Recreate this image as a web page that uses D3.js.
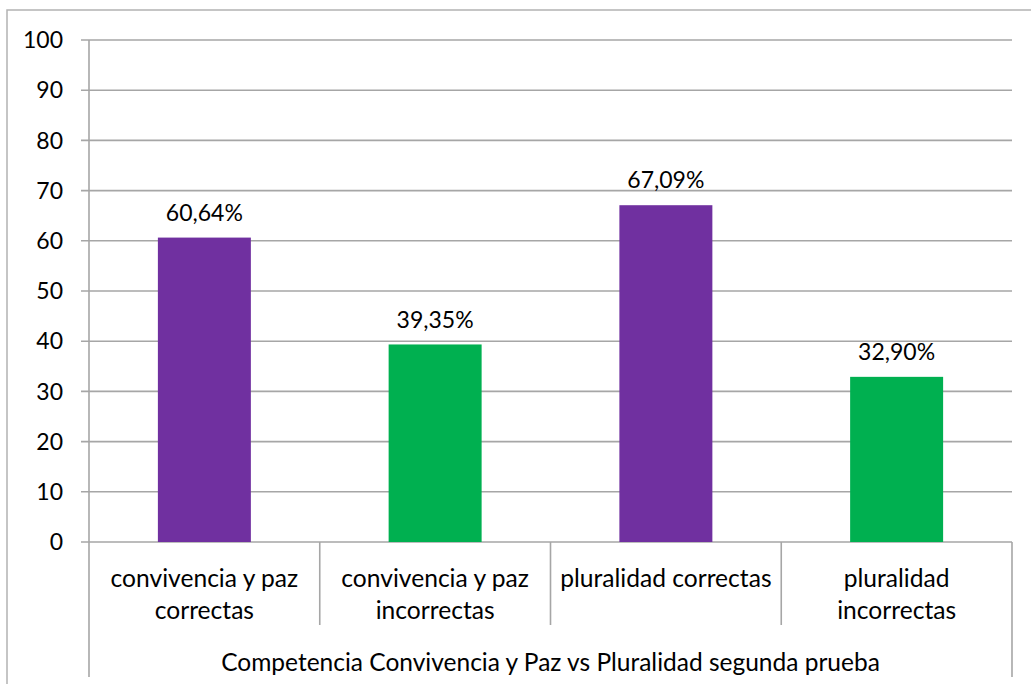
<!DOCTYPE html>
<html><head><meta charset="utf-8">
<script src="https://cdn.jsdelivr.net/npm/d3@7"></script>
<style>body{margin:0;background:#fff}text{font-family:Lato,"Open Sans",sans-serif;fill:#000}</style>
</head><body>
<svg id="c" width="1031" height="684"></svg>
<script>
const categories = [["convivencia y paz","correctas"],["convivencia y paz","incorrectas"],["pluralidad correctas"],["pluralidad","incorrectas"]];
const values = [60.64, 39.35, 67.09, 32.90];
const labels = ["60,64%","39,35%","67,09%","32,90%"];
const colors = ["#7030A0","#00B050","#7030A0","#00B050"];
const yTicks = [0,10,20,30,40,50,60,70,80,90,100];
const groupLabel = "Competencia Convivencia y Paz vs Pluralidad segunda prueba";

const svg = d3.select("#c");
const L=89, R=1012, T=40, B=542;
const grid="#a6a6a6";
svg.append("rect").attr("x",7).attr("y",10).attr("width",1040).attr("height",700).attr("fill","none").attr("stroke","#b3b3b3").attr("stroke-width",1.5);
const x = d3.scaleBand().domain(d3.range(values.length)).range([L,R]).paddingInner(0).paddingOuter(0);
const y = d3.scaleLinear().domain([0,100]).range([B,T]);

svg.append("g").selectAll("line").data(yTicks).join("line")
  .attr("x1",L-8).attr("x2",R).attr("y1",d=>y(d)).attr("y2",d=>y(d))
  .attr("stroke",grid).attr("stroke-width",1.6);
svg.append("line").attr("x1",L).attr("x2",L).attr("y1",T).attr("y2",677).attr("stroke",grid).attr("stroke-width",1.6);
svg.append("line").attr("x1",R).attr("x2",R).attr("y1",B).attr("y2",677).attr("stroke",grid).attr("stroke-width",1.6);
svg.append("g").selectAll("line").data(d3.range(1,values.length)).join("line")
  .attr("x1",d=>x(d)).attr("x2",d=>x(d)).attr("y1",B).attr("y2",625)
  .attr("stroke",grid).attr("stroke-width",1.6);
svg.append("g").selectAll("text").data(yTicks).join("text")
  .attr("x",L-26).attr("y",d=>y(d)).attr("dy","0.36em").attr("text-anchor","end")
  .attr("font-size",23).text(d=>d);

const bw = x.bandwidth()*0.403;
svg.append("g").selectAll("rect").data(values).join("rect")
  .attr("x",(d,i)=>x(i)+x.bandwidth()/2-bw/2).attr("width",bw)
  .attr("y",d=>y(d)).attr("height",d=>B-y(d)).attr("fill",(d,i)=>colors[i]);
svg.append("g").selectAll("text").data(values).join("text")
  .attr("x",(d,i)=>x(i)+x.bandwidth()/2).attr("y",d=>y(d)-25).attr("dy","0.36em")
  .attr("text-anchor","middle").attr("font-size",23).text((d,i)=>labels[i]);

const cg = svg.append("g");
categories.forEach((lines,i)=>{
  lines.forEach((s,j)=>{
    cg.append("text").attr("x",x(i)+x.bandwidth()/2).attr("y",578+j*32).attr("dy","0.36em")
      .attr("text-anchor","middle").attr("font-size",24.6).text(s);
  });
});
svg.append("text").attr("x",(L+R)/2).attr("y",662).attr("dy","0.36em").attr("text-anchor","middle")
  .attr("font-size",24.5).text(groupLabel);
</script>
</body></html>
